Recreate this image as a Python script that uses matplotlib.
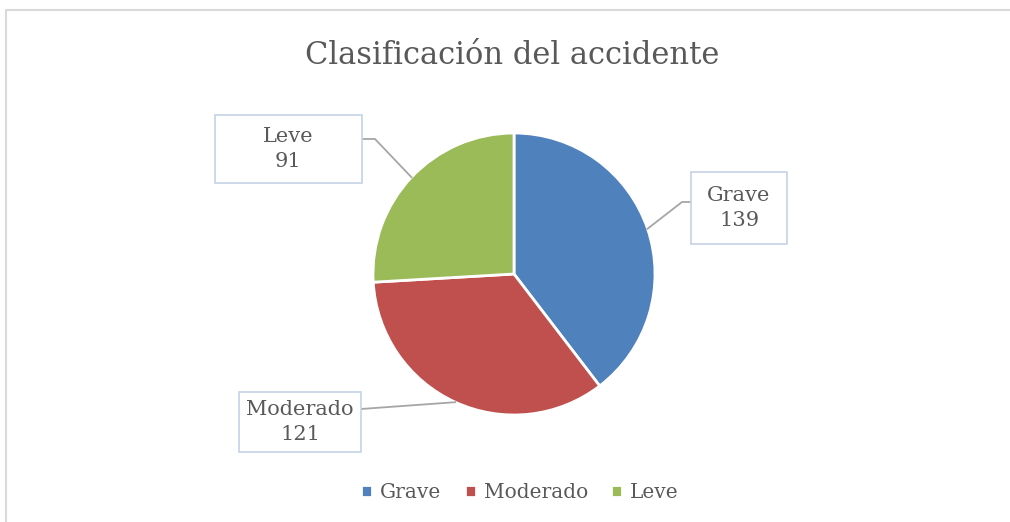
import numpy as np
import matplotlib.pyplot as plt
from matplotlib.patches import Rectangle

# Data
categories = ['Grave', 'Moderado', 'Leve']
values = [139, 121, 91]
colors = ['#4F81BD', '#C0504D', '#9BBB59']
title = 'Clasificación del accidente'

plt.rcParams['font.family'] = ['DejaVu Serif']
text_color = '#595959'

W, H = 1010, 522
fig = plt.figure(figsize=(W / 100, H / 100), dpi=100)
ax = fig.add_axes([0, 0, 1, 1])

def Y(y):
    # image pixel row -> data y
    return H - y

cx, cy, r = 514, Y(274), 141
wedges, _ = ax.pie(values, colors=colors, startangle=90, counterclock=False,
                   center=(cx, cy), radius=r, frame=True,
                   wedgeprops=dict(edgecolor='white', linewidth=2))

ax.set_xlim(0, W)
ax.set_ylim(0, H)
ax.set_aspect('equal')
ax.axis('off')

# chart frame (light gray, only top and left are visible)
ax.plot([5.5, 5.5, W + 5], [-5, Y(9.5), Y(9.5)], color='#d9d9d9', linewidth=1.5)

ax.text(512, Y(55), title, ha='center', va='center', fontsize=22, color=text_color)

# label boxes: (x0, y0, x1, y1) in pixel rows, elbow point, line end
boxes = {
    'Grave': ((691, 172, 787, 244), (682, 202), (691, 202)),
    'Moderado': ((239, 392, 361, 452), None, (361, 409)),
    'Leve': ((215, 115, 362, 183), (375, 139), (362, 139)),
}

for w, cat, val in zip(wedges, categories, values):
    mid = np.deg2rad((w.theta1 + w.theta2) / 2)
    px, py = cx + r * np.cos(mid), cy + r * np.sin(mid)
    (x0, y0, x1, y1), elbow, end = boxes[cat]
    xs, ys = [px], [py]
    if elbow is not None:
        xs.append(elbow[0]); ys.append(Y(elbow[1]))
    xs.append(end[0]); ys.append(Y(end[1]))
    ax.plot(xs, ys, color='#a6a6a6', linewidth=1.3, zorder=1)
    ax.add_patch(Rectangle((x0, Y(y1)), x1 - x0, y1 - y0, facecolor='white',
                           edgecolor='#c5d3e6', linewidth=1.2, zorder=3))
    ax.text((x0 + x1) / 2, Y((y0 + y1) / 2), f'{cat}\n{val}', ha='center',
            va='center', fontsize=15, color=text_color, linespacing=1.45, zorder=4)

leg = ax.legend(wedges, categories, loc='center', bbox_to_anchor=(520 / W, 1 - 493 / H),
                ncol=3, frameon=False, fontsize=14.5, handlelength=0.55,
                handleheight=0.55, handletextpad=0.4, columnspacing=1.15,
                labelcolor=text_color)

fig.savefig('out.png', dpi=100)
